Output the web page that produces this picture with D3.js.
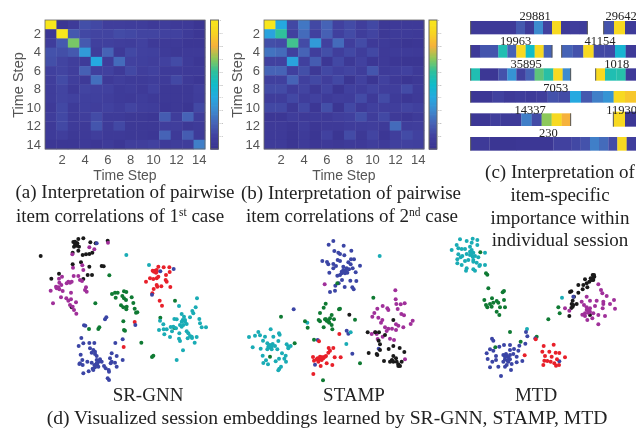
<!DOCTYPE html>
<html><head><meta charset="utf-8">
<script src="https://cdn.jsdelivr.net/npm/d3@7/dist/d3.min.js"></script>
<style>html,body{margin:0;padding:0;background:#fff}svg{display:block}.soft{filter:blur(0.7px)}.txt{filter:blur(0.3px)}</style>
</head><body><svg id="c" width="636" height="429"></svg>
<script>
const stepTicks=[2,4,6,8,10,12,14];
const barTicks=[0.1,0.2,0.3,0.4,0.5,0.6,0.7,0.8,0.9,1];
const matrixA=[
[1,.02,.06,.14,.12,.08,.08,.07,.07,.05,.07,.05,.05,.02],
[.03,1,.17,.12,.11,.11,.13,.12,.11,.11,.10,.10,.06,.03],
[.07,.17,.68,.17,.09,.09,.08,.07,.1,.05,.05,.05,.03,.03],
[.15,.14,.17,.35,.07,.2,.05,.12,.1,.09,.06,.04,.05,.05],
[.14,.11,.08,.06,.4,.07,.22,.1,.09,.08,.1,.13,.06,.03],
[.09,.11,.08,.19,.09,.1,.05,.12,.08,.1,.06,.06,.05,.05],
[.08,.13,.08,.05,.23,.05,.08,.06,.06,.07,.06,.12,.05,.03],
[.07,.11,.05,.11,.1,.1,.06,.07,.05,.1,.04,.04,.04,.08],
[.07,.11,.1,.09,.09,.08,.06,.05,.07,.05,.04,.04,.04,.07],
[.05,.12,.06,.09,.08,.1,.07,.11,.08,.07,.03,.04,.02,.12],
[.07,.12,.06,.08,.13,.06,.06,.04,.04,.03,.18,.07,.2,.07],
[.05,.12,.06,.05,.16,.06,.12,.04,.04,.04,.08,.08,.04,.06],
[.06,.08,.04,.05,.08,.05,.05,.04,.04,.03,.2,.05,.18,.06],
[.03,.03,.03,.05,.03,.06,.03,.08,.08,.1,.06,.07,.07,.27]];
const matrixB=[
[1,.4,.12,.25,.12,.2,.1,.13,.08,.12,.04,.05,.05,.05],
[.38,.6,.1,.22,.1,.19,.09,.13,.07,.11,.04,.06,.06,.05],
[.14,.13,.62,.13,.35,.1,.22,.08,.13,.05,.06,.04,.02,.03],
[.24,.22,.09,.2,.08,.14,.08,.12,.07,.12,.05,.06,.06,.05],
[.1,.1,.38,.09,.18,.03,.12,.04,.1,.03,.05,.03,.02,.02],
[.2,.2,.09,.14,.04,.12,.09,.11,.07,.16,.06,.07,.1,.05],
[.09,.09,.2,.09,.12,.08,.12,.02,.1,.02,.1,.05,.02,.04],
[.13,.13,.07,.11,.04,.11,.02,.09,.07,.11,.08,.08,.13,.06],
[.07,.07,.12,.07,.1,.06,.08,.07,.13,.05,.13,.06,.03,.05],
[.12,.12,.04,.12,.03,.14,.02,.12,.05,.09,.08,.08,.11,.09],
[.03,.03,.07,.05,.06,.05,.08,.09,.14,.07,.12,.05,.03,.06],
[.05,.05,.03,.07,.03,.05,.05,.07,.07,.08,.06,.22,.07,.08],
[.05,.05,.02,.06,.02,.1,.02,.13,.04,.11,.03,.08,.13,.1],
[.06,.06,.02,.06,.03,.05,.04,.06,.05,.08,.06,.09,.1,.09]];
const colorStops=[0,.1,.2,.3,.4,.5,.6,.7,.8,.9,1];
const colorVals=["#3a3390","#41419f","#4663b6","#3d8bcf","#25a9e0","#10bcc9","#2fc09c","#8cc85a","#f6b23c","#f7d522","#f8e71c"];

const sessionIds=["29881","29642","19963","41154","35895","1018","7053","14337","11930","230"];
const barRows=[
{edges:[32,168,195,222,249,276,303,330,357,382],vals:[.05,.17,.05,.3,.1,.92,.05,.08,.07],y:[63,103]},
{edges:[431,462,495,528],vals:[.15,.92,.06],y:[63,103]},
{edges:[32,60,115,142,169,197,224,251,276],vals:[.05,.16,.55,.2,.92,.5,.92,.2],y:[135,173]},
{edges:[305,338,370,401,433,465,497,528],vals:[.2,.15,.92,.12,.12,.46,.05],y:[135,173]},
{edges:[32,60,115,142,169,197,224,251,280,308,332],vals:[.55,.03,.15,.33,.1,.2,.65,.58,.92,.3],y:[205,242]},
{edges:[407,435,469,497,528],vals:[.92,.55,.57,.05],y:[205,242]},
{edges:[32,98,132,165,197,230,263,296,330,363,396,429,461,495,528],vals:[.03,.1,.05,.07,.06,.08,.15,.13,.4,.17,.27,.33,.92,.86],y:[273,308]},
{edges:[32,92,122,153,184,215,245,275,305,332],vals:[.03,.08,.06,.06,.27,.13,.7,.92,.8],y:[340,378]},
{edges:[460,495,528],vals:[.92,.03],y:[335,380]},
{edges:[32,88,168,280,335,362,390,417,445,472,500,528],vals:[.05,.02,.03,.1,.12,.15,.27,.22,.13,.92,.08],y:[411,452]}];
const sessionX=[225,483,167,420,198,470,287,210,485,265];
const sessionY=[47,47,122,122,190,190,261,327,327,398];

const clusterColors={black:"#1a1a1a",purple:"#a0309a",red:"#e8202a",green:"#0f7a33",blue:"#3b45a5",teal:"#1aacb5"};
const srgnn={
black:[[122,78],[220,36],[235,27],[250,25],[271,37],[287,40],[323,32],[225,42],[230,47],[222,50],[235,62],[218,68],[248,75],[258,73],[268,72],[277,68],[243,97],[218,103],[268,110],[305,108],[311,109],[177,131],[154,146],[263,135],[276,135],[250,147],[215,232],[232,40],[228,38],[225,35],[230,43],[237,50]],
purple:[[324,38],[268,52],[283,58],[217,73],[219,113],[247,106],[250,120],[186,140],[221,138],[235,138],[240,150],[246,153],[177,146],[205,155],[215,155],[200,160],[178,158],[184,165],[170,175],[178,178],[188,183],[152,182],[258,172],[255,180],[260,185],[213,188],[183,202],[199,205],[205,212],[213,208],[228,217],[159,220],[210,225],[218,230],[222,240],[229,251],[168,170],[175,172],[210,158]],
red:[[462,125],[470,120],[475,110],[491,112],[508,112],[458,122],[468,128],[509,126],[497,150],[500,155],[450,145],[438,155],[460,147],[470,145],[475,140],[498,135],[470,165],[484,169],[461,177],[511,171],[479,212],[486,227],[404,276],[371,351],[472,170],[457,190],[465,122],[470,125]],
green:[[328,136],[336,192],[345,188],[353,188],[372,184],[379,186],[347,203],[367,198],[372,205],[395,202],[378,210],[400,219],[363,226],[370,232],[380,230],[379,238],[404,236],[408,248],[412,247],[286,220],[525,212],[370,274],[372,300],[375,302],[267,297],[295,297],[298,292],[424,338],[456,381],[460,377],[481,263],[523,294]],
blue:[[290,40],[481,124],[521,117],[456,194],[319,262],[315,268],[252,286],[256,287],[406,285],[368,328],[346,339],[244,324],[236,348],[250,340],[268,339],[283,339],[280,360],[270,355],[275,368],[285,372],[242,374],[247,390],[240,400],[248,405],[238,402],[262,395],[275,398],[290,390],[295,396],[292,405],[285,412],[278,416],[300,388],[330,385],[335,370],[335,395],[350,378],[332,400],[345,398],[350,410],[368,390],[312,408],[317,415],[326,420],[327,425],[266,424],[250,430],[280,420],[323,445],[327,450],[285,365],[290,378],[298,392],[305,395],[290,400],[283,405],[295,410]],
teal:[[379,75],[447,105],[537,228],[591,205],[587,232],[577,243],[580,250],[545,252],[552,260],[598,267],[600,280],[605,292],[618,292],[480,272],[523,267],[530,268],[548,270],[555,275],[560,282],[540,285],[545,290],[520,290],[528,295],[512,291],[490,283],[477,300],[491,298],[500,298],[516,304],[493,313],[538,310],[510,321],[537,326],[540,333],[560,304],[565,310],[570,318],[576,324],[590,321],[584,338],[549,361],[530,390],[563,325],[575,320],[545,275],[550,285],[555,270],[570,262]]};
const stamp={
blue:[[326,44],[340,33],[371,47],[394,62],[343,63],[355,68],[360,72],[373,76],[393,88],[402,88],[307,93],[321,96],[325,103],[340,102],[353,90],[348,108],[360,93],[385,97],[392,103],[420,107],[370,110],[380,115],[372,122],[365,130],[375,130],[387,118],[398,115],[407,127],[352,137],[360,135],[328,128],[340,115],[366,150],[391,152],[409,153],[356,160],[346,167],[374,171],[397,172],[401,178],[345,182],[330,186],[221,238],[380,302],[385,311],[397,371],[476,356],[285,404],[293,330],[370,120],[378,122],[375,125],[365,125],[382,128]],
teal:[[479,78],[87,321],[105,317],[115,306],[120,316],[152,298],[177,310],[179,314],[135,320],[160,320],[129,332],[175,333],[142,340],[150,345],[158,342],[165,348],[122,356],[98,352],[142,358],[148,352],[155,358],[172,358],[200,343],[205,350],[212,348],[205,355],[128,377],[186,370],[197,377],[193,386],[177,386],[167,394],[138,391],[130,399],[144,403],[198,395],[178,416],[175,421],[183,410],[262,278],[392,307],[379,342],[150,350],[155,350],[145,350]],
green:[[352,160],[460,203],[317,221],[311,233],[300,249],[335,255],[360,236],[357,238],[183,260],[255,274],[263,293],[296,270],[300,274],[318,268],[325,272],[330,265],[342,268],[335,285],[337,298],[311,292],[328,278],[405,269],[282,329],[224,340],[150,380],[420,400],[309,451],[320,272],[325,275],[315,268]],
red:[[297,334],[358,312],[326,354],[340,354],[279,381],[293,385],[300,380],[310,382],[318,378],[325,368],[330,362],[344,382],[362,382],[282,392],[295,395],[305,390],[320,400],[302,408],[337,405],[280,432],[290,388],[300,388],[310,385],[305,382],[315,380]],
purple:[[314,163],[526,181],[527,208],[529,222],[542,223],[554,220],[488,228],[472,236],[502,235],[505,240],[533,237],[544,252],[552,256],[463,249],[457,260],[475,263],[487,270],[483,278],[578,272],[572,282],[528,283],[535,287],[550,292],[516,296],[505,296],[495,292],[500,303],[528,300],[470,312],[455,312],[473,327],[488,320],[510,326],[522,330],[555,388],[465,307]],
black:[[388,254],[520,270],[443,307],[466,307],[477,307],[495,315],[476,332],[480,343],[480,360],[506,357],[520,348],[539,354],[446,369],[470,372],[553,366],[520,378],[528,385],[516,390],[510,395],[492,393],[545,395],[535,403],[540,408],[520,395],[472,375],[515,392],[530,395],[535,408]]};
const mtd={
teal:[[90,28],[128,26],[142,30],[110,33],[125,38],[142,45],[80,45],[65,60],[85,55],[95,57],[105,57],[120,50],[125,60],[130,68],[165,68],[85,73],[97,78],[110,72],[120,75],[135,78],[145,82],[82,88],[92,82],[82,100],[105,93],[115,90],[130,90],[140,98],[148,108],[165,105],[150,105],[95,105],[110,115],[108,122],[130,118],[135,122],[130,95],[291,297],[396,203],[120,65],[125,72],[128,80]],
green:[[151,67],[168,130],[172,134],[175,175],[222,183],[218,187],[163,210],[186,205],[200,213],[222,210],[190,218],[205,218],[180,222],[168,225],[172,232],[185,230],[210,232],[225,232],[200,245],[208,255],[240,306],[272,335],[320,320],[196,352],[385,232],[389,250],[355,268]],
black:[[488,135],[493,140],[490,150],[482,145],[478,155],[465,148],[470,160],[460,165],[445,165],[458,178],[472,172],[424,184],[420,186],[445,188],[432,200],[428,212],[440,222],[428,230],[424,234],[418,258],[480,255],[488,145],[485,150],[492,135],[430,225],[425,222]],
purple:[[505,163],[513,180],[517,190],[530,198],[470,200],[480,212],[500,212],[520,215],[552,210],[540,222],[520,222],[455,215],[462,225],[470,232],[405,235],[480,235],[495,228],[555,236],[418,242],[457,254],[465,258],[475,248],[490,250],[505,255],[525,258],[472,270],[487,265],[505,283],[518,235],[470,240],[465,250],[475,240],[480,245]],
blue:[[430,200],[186,326],[190,332],[288,306],[292,319],[286,341],[268,347],[316,325],[180,358],[208,350],[222,345],[240,345],[170,370],[190,362],[240,360],[252,357],[265,362],[173,387],[198,378],[220,375],[228,372],[240,375],[225,388],[240,388],[250,372],[260,380],[187,395],[198,390],[180,412],[205,410],[220,395],[230,405],[245,402],[260,397],[277,393],[213,438],[243,420],[225,410],[235,395],[388,394],[230,378],[235,382],[225,380],[232,392]],
red:[[317,328],[284,376],[341,348],[371,344],[337,365],[358,365],[377,368],[388,369],[345,378],[365,380],[405,382],[381,388],[343,392],[352,393],[362,395],[373,400],[340,405],[387,405],[378,407]]};
const panels=[
{data:srgnn,ox:0,oy:230,label:"SR-GNN",lx:148},
{data:stamp,ox:220,oy:230,label:"STAMP",lx:354},
{data:mtd,ox:430,oy:230,label:"MTD",lx:536}];
const captions=[
{t:"(a) Interpretation of pairwise",x:125,y:198},
{t:"(b) Interpretation of pairwise",x:351,y:199},
{t:"(c) Interpretation of",x:560,y:178},
{t:"item-specific",x:560,y:201},
{t:"importance within",x:560,y:224},
{t:"individual session",x:560,y:246}];
const caption2=[{pre:"item correlations of 1",sup:"st",post:" case",x:120,y:222},{pre:"item correlations of 2",sup:"nd",post:" case",x:352,y:222}];
const bottomCaption="(d) Visualized session embeddings learned by SR-GNN, STAMP, MTD";

const svg=d3.select("#c");
const color=d3.scaleLinear().domain(colorStops).range(colorVals).clamp(true);
const SANS="Liberation Sans,Arial,sans-serif",SERIF="Liberation Serif,Times New Roman,serif";
function heat(matrix,x0,x1,cbx){
  const idx=d3.range(1,15);
  const x=d3.scaleBand().domain(idx).range([x0,x1]);
  const y=d3.scaleBand().domain(idx).range([20,149]);
  const g=svg.append("g").attr("class","soft");
  matrix.forEach((row,r)=>g.selectAll(null).data(row).join("rect")
    .attr("x",(d,c)=>x(c+1)).attr("y",y(r+1)).attr("width",x.bandwidth()+.4).attr("height",y.bandwidth()+.4).attr("fill",d=>color(d)));
  g.append("rect").attr("x",x0).attr("y",20).attr("width",x1-x0).attr("height",129).attr("fill","none").attr("stroke","#666").attr("stroke-width",.8);
  const cy=d3.scaleLinear().domain([0,1]).range([149,20]);
  g.selectAll(null).data(d3.range(0,1,.01)).join("rect").attr("x",cbx).attr("width",8).attr("y",d=>cy(d+.01)).attr("height",2).attr("fill",d=>color(d));
  g.append("rect").attr("x",cbx).attr("y",20).attr("width",8).attr("height",129).attr("fill","none").attr("stroke","#666").attr("stroke-width",1);
  const t=svg.append("g").attr("class","txt");
  const tx=t.append("g").attr("transform","translate(0,149)").call(d3.axisBottom(x).tickValues(stepTicks).tickSize(0).tickPadding(6));
  const ty=t.append("g").attr("transform",`translate(${x0},0)`).call(d3.axisLeft(y).tickValues(stepTicks).tickSize(0).tickPadding(4));
  [tx,ty].forEach(a=>{a.select(".domain").remove();a.selectAll("text").attr("fill","#555").style("font","13px "+SANS);});
  t.append("text").attr("x",(x0+x1)/2).attr("y",180).attr("text-anchor","middle").attr("fill","#555").style("font","14px "+SANS).text("Time Step");
  t.append("text").attr("transform",`translate(${x0-22},85) rotate(-90)`).attr("text-anchor","middle").attr("fill","#555").style("font","14.5px "+SANS).text("Time Step");
  t.selectAll(null).data(barTicks).join("text").attr("x",cbx+9).attr("y",d=>cy(d)+1).attr("fill","#888").style("font","2.5px "+SANS).text(d=>d);
}
heat(matrixA,45,205,210.5);
heat(matrixB,264,424,429);

const bx=d3.scaleLinear().domain([0,528]).range([460,636]);
const by=d3.scaleLinear().domain([0,510]).range([0,170]);
const barG=svg.append("g").attr("class","soft");
barRows.forEach(r=>{
  const g=barG.append("g");
  g.selectAll(null).data(r.vals).join("rect").attr("x",(d,i)=>bx(r.edges[i])).attr("width",(d,i)=>bx(r.edges[i+1])-bx(r.edges[i])+.2)
    .attr("y",by(r.y[0])).attr("height",by(r.y[1])-by(r.y[0])).attr("fill",d=>color(d));
  g.selectAll(null).data(r.edges.filter((e,i)=>i==0||(i==r.edges.length-1&&e<528))).join("line")
    .attr("x1",d=>bx(d)).attr("x2",d=>bx(d)).attr("y1",by(r.y[0])).attr("y2",by(r.y[1])).attr("stroke","#555").attr("stroke-width",1);
});
svg.append("g").attr("class","txt").selectAll(null).data(sessionIds).join("text").attr("x",(d,i)=>bx(sessionX[i])).attr("y",(d,i)=>by(sessionY[i])+4.5)
  .attr("text-anchor","middle").attr("fill","#222").style("font","12.5px "+SERIF).text(d=>d);

const txt=svg.append("g").attr("class","txt");
panels.forEach(p=>{
  const sx=d3.scaleLinear().domain([0,660]).range([p.ox,p.ox+220]);
  const sy=d3.scaleLinear().domain([0,510]).range([p.oy,p.oy+170]);
  const g=svg.append("g").attr("class","txt");
  Object.keys(p.data).forEach(k=>g.selectAll(null).data(p.data[k]).join("circle")
    .attr("cx",d=>sx(d[0])).attr("cy",d=>sy(d[1])).attr("r",2).attr("fill",clusterColors[k]));
  txt.append("text").attr("x",p.lx).attr("y",400.5).attr("text-anchor","middle").attr("fill","#222").style("font","19px "+SERIF).text(p.label);
});
captions.forEach(c=>txt.append("text").attr("x",c.x).attr("y",c.y).attr("text-anchor","middle").attr("fill","#222").style("font","19px "+SERIF).text(c.t));
caption2.forEach(c=>{
  const t=txt.append("text").attr("x",c.x).attr("y",c.y).attr("text-anchor","middle").attr("fill","#222").style("font","19px "+SERIF);
  t.append("tspan").text(c.pre);
  t.append("tspan").attr("dy",-6).style("font-size","11.5px").text(c.sup);
  t.append("tspan").attr("dy",6).text(c.post);
});
txt.append("text").attr("x",327).attr("y",424).attr("text-anchor","middle").attr("fill","#222").style("font","19.6px "+SERIF).text(bottomCaption);
</script></body></html>
